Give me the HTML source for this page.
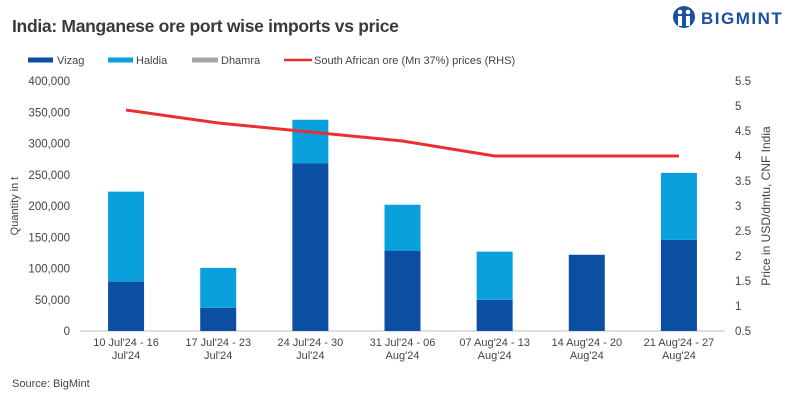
<!DOCTYPE html>
<html><head><meta charset="utf-8"><style>
body{margin:0;width:800px;height:400px;background:#fff;font-family:"Liberation Sans",sans-serif;overflow:hidden}
</style></head><body>
<svg id="c" width="800" height="400" xmlns="http://www.w3.org/2000/svg">
<text x="12" y="32" font-size="17.5" font-weight="bold" fill="#3a3a3a" letter-spacing="-0.3">India: Manganese ore port wise imports vs price</text>
<g>
<circle cx="684" cy="17" r="11" fill="#1a4fa3"/>
<circle cx="680" cy="12" r="2.3" fill="#fff"/><circle cx="688" cy="12" r="2.3" fill="#fff"/>
<rect x="678" y="16" width="4" height="10" fill="#fff"/><rect x="686" y="16" width="4" height="10" fill="#fff"/>
<text x="701" y="24" font-size="17" font-weight="bold" fill="#1a4fa3" letter-spacing="1.5">BIGMINT</text>
</g>
<g font-size="11" fill="#444">
<rect x="28" y="57.5" width="25" height="5" fill="#0b4ea2"/><text x="57" y="64">Vizag</text>
<rect x="108" y="57.5" width="25" height="5" fill="#0aa0dd"/><text x="136" y="64">Haldia</text>
<rect x="192" y="57.5" width="26" height="5" fill="#a6a6a6"/><text x="221" y="64">Dhamra</text>
<line x1="284" y1="60" x2="312" y2="60" stroke="#e8312f" stroke-width="2.5"/><text x="314" y="64">South African ore (Mn 37%) prices (RHS)</text>
</g>
<g id="axes" font-size="11.5" fill="#444"></g>
<g id="bars"></g>
<g id="line"></g>
<text x="12" y="387" font-size="11" fill="#444">Source: BigMint</text>
<text transform="translate(18,206) rotate(-90)" text-anchor="middle" font-size="11" fill="#444">Quantity in t</text>
<text transform="translate(770,206) rotate(-90)" text-anchor="middle" font-size="12" fill="#444">Price in USD/dmtu, CNF India</text>
</svg>
<script>
const categories=[["10 Jul'24 - 16","Jul'24"],["17 Jul'24 - 23","Jul'24"],["24 Jul'24 - 30","Jul'24"],["31 Jul'24 - 06","Aug'24"],["07 Aug'24 - 13","Aug'24"],["14 Aug'24 - 20","Aug'24"],["21 Aug'24 - 27","Aug'24"]];
const vizag=[79000,37000,268000,128000,50000,122000,146000];
const haldia=[144000,64000,70000,74000,77000,0,107000];
const dhamra=[0,0,0,0,0,0,0];
const price=[4.92,4.66,4.48,4.3,4.0,4.0,4.0];
const leftTicks=[0,50000,100000,150000,200000,250000,300000,350000,400000];
const rightTicks=[0.5,1,1.5,2,2.5,3,3.5,4,4.5,5,5.5];
const NS="http://www.w3.org/2000/svg";
const x0=80,x1=725,yb=331,yt=81;
const yL=v=>yb-(v/400000)*(yb-yt);
const yR=v=>yb-((v-0.5)/5)*(yb-yt);
const bw=(x1-x0)/categories.length;
const xc=i=>x0+bw*(i+0.5);
function mk(t,a,p){const e=document.createElementNS(NS,t);for(const k in a)e.setAttribute(k,a[k]);p.appendChild(e);return e;}
const ax=document.getElementById('axes'),bars=document.getElementById('bars'),ln=document.getElementById('line');
leftTicks.forEach(v=>{const t=mk('text',{x:70,y:yL(v)+4,'text-anchor':'end'},ax);t.textContent=v.toLocaleString('en-US');

});
rightTicks.forEach(v=>{const t=mk('text',{x:735,y:yR(v)+4},ax);t.textContent=String(v);

});
const base=mk('line',{x1:x0,x2:x1,y1:yb,y2:yb,stroke:'#bfbfbf'},ax);


categories.forEach((c,i)=>{c.forEach((s,j)=>{const t=mk('text',{x:xc(i),y:346+j*13,'text-anchor':'middle','font-size':'11'},ax);t.textContent=s;

});
const w=36;
const r1=mk('rect',{x:xc(i)-w/2,y:yL(vizag[i]),width:w,height:yb-yL(vizag[i]),fill:'#0b4ea2'},bars);


const r2=mk('rect',{x:xc(i)-w/2,y:yL(vizag[i]+haldia[i]),width:w,height:yL(vizag[i])-yL(vizag[i]+haldia[i]),fill:'#0aa0dd'},bars);


const r3=mk('rect',{x:xc(i)-w/2,y:yL(vizag[i]+haldia[i]+dhamra[i]),width:w,height:yL(vizag[i]+haldia[i])-yL(vizag[i]+haldia[i]+dhamra[i]),fill:'#a6a6a6'},bars);


});
const pl=mk('polyline',{points:price.map((v,i)=>xc(i)+','+yR(v)).join(' '),fill:'none',stroke:'#e8312f','stroke-width':3},ln);


</script>
</body></html>
